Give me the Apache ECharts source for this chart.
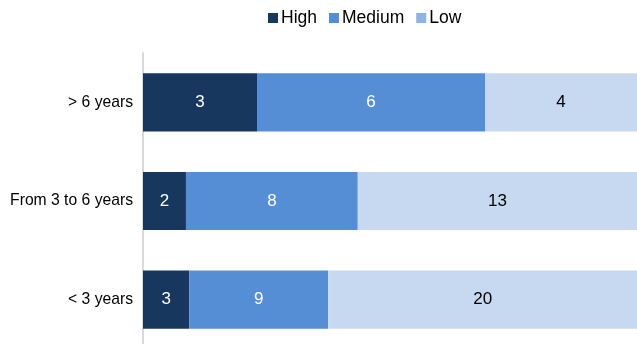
<!DOCTYPE html>
<html>
<head>
<meta charset="utf-8">
<script src="https://cdn.jsdelivr.net/npm/echarts@6/dist/echarts.min.js"></script>
<style>
  html, body { margin: 0; padding: 0; background: #fff; overflow: hidden; }
  #chart { width: 637px; height: 350px; }
</style>
</head>
<body>
<div id="chart"></div>
<script>
// Categories from top to bottom
const categories = ['> 6 years', 'From 3 to 6 years', '< 3 years'];
const seriesNames = ['High', 'Medium', 'Low'];
const highValues = [3, 2, 3];
const mediumValues = [6, 8, 9];
const lowValues = [4, 13, 20];

const colors = ['#17375e', '#558ed5', '#c6d9f1'];
const legendColors = ['#17375e', '#558ed5', '#8eb4e3'];
const labelColors = ['#ffffff', '#ffffff', '#000000'];

const rows = [highValues, mediumValues, lowValues];
const totals = categories.map((_, i) => rows.reduce((s, r) => s + r[i], 0));

const chart = echarts.init(document.getElementById('chart'));
chart.setOption({
  animation: false,
  textStyle: { fontFamily: 'Liberation Sans, Arial, sans-serif' },
  legend: {
    top: 4,
    left: 263,
    itemWidth: 10,
    itemHeight: 10,
    itemGap: 12,
    icon: 'rect',
    textStyle: { fontSize: 17.5, color: '#000', padding: [0, 0, 0, -2] },
    data: seriesNames.map((n, k) => ({ name: n, itemStyle: { color: legendColors[k] } }))
  },
  grid: { left: 143, right: 0, top: 53, height: 296, containLabel: false },
  xAxis: {
    type: 'value',
    min: 0,
    max: 1,
    show: false
  },
  yAxis: {
    type: 'category',
    inverse: true,
    data: categories,
    axisLine: { show: true, lineStyle: { color: '#d9d9d9', width: 2 } },
    axisTick: { show: false },
    axisLabel: { color: '#000', fontSize: 15.7, margin: 10 }
  },
  series: seriesNames.map((name, k) => ({
    name: name,
    type: 'bar',
    stack: 'total',
    barCategoryGap: '41%',
    itemStyle: { color: colors[k] },
    label: {
      show: true,
      position: 'inside',
      color: labelColors[k],
      fontSize: 17,
      formatter: p => String(rows[k][p.dataIndex])
    },
    data: rows[k].map((v, i) => v / totals[i])
  }))
});
</script>
</body>
</html>
